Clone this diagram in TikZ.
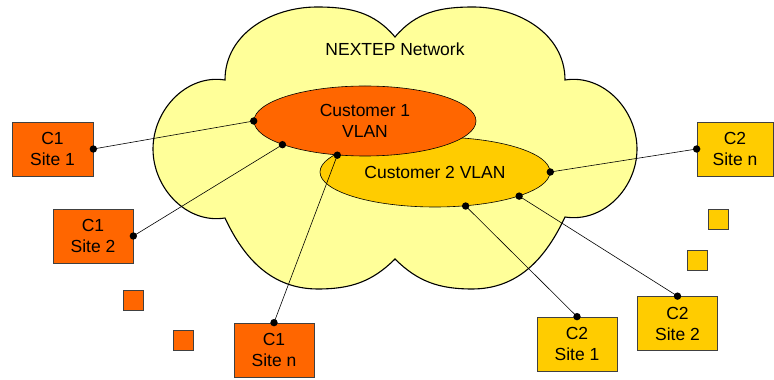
\documentclass[tikz,border=0pt]{standalone}
\usepackage{fontspec}
\setmainfont{Liberation Sans}
\usetikzlibrary{shapes.geometric}
\definecolor{cloudy}{HTML}{FFFF99}
\definecolor{orng}{HTML}{FF6600}
\definecolor{gold}{HTML}{FFCC00}
\begin{document}
\begin{tikzpicture}[x=1pt,y=1pt, font=\fontsize{17.5}{21}\selectfont,
  sitebox/.style={draw=black!75, line width=0.7pt, minimum width=80pt, minimum height=54pt, inner sep=0pt, align=center},
  c1box/.style={sitebox, fill=orng},
  c2box/.style={sitebox, fill=gold},
  dotsq/.style={draw=black!75, line width=0.7pt, minimum size=20pt, inner sep=0pt},
  conn/.style={line width=0.6pt},
  vlan/.style={ellipse, draw, line width=0.6pt, inner sep=0pt, align=center},
  joint/.style={fill=black}]
\useasboundingbox (0,0) rectangle (774,380);
% cloud outline
\coordinate (T) at (395,343);
\coordinate (P1) at (317,373);
\coordinate (B) at (225,300);
\coordinate (Lx) at (153,231);
\coordinate (C) at (225,162);
\coordinate (Bot1) at (318,91);
\coordinate (N) at (395,121);
\coordinate (Bot2) at (472,91);
\coordinate (D) at (565,163);
\coordinate (Rx) at (637,231);
\coordinate (E) at (565,300);
\coordinate (P2) at (473,373);
\draw[fill=cloudy, line width=1.1pt]
  (T) to[out=130,in=0] (P1) to[out=180,in=90] (B)
  to[out=171,in=90] (Lx) to[out=270,in=189] (C)
  to[out=-65,in=180] (Bot1) to[out=0,in=225] (N)
  to[out=-45,in=180] (Bot2) to[out=0,in=245] (D)
  to[out=-9,in=270] (Rx) to[out=90,in=9] (E)
  to[out=90,in=0] (P2) to[out=180,in=50] (T) -- cycle;
\node (net) at (395,331) {NEXTEP Network};
% VLAN ellipses
\node[vlan, fill=gold, minimum width=230pt, minimum height=70pt] (v2) at (435,208) {Customer 2 VLAN};
\node[vlan, fill=orng, minimum width=222pt, minimum height=70pt] (v1) at (365,259) {Customer 1\\VLAN};
% sites
\node[c1box, minimum width=81pt] (s11) at (52.5,231) {C1\\Site 1};
\node[c1box] (s12) at (93,144) {C1\\Site 2};
\node[c1box] (s1n) at (274,30) {C1\\Site n};
\node[c2box, minimum width=76pt] (s2n) at (735,231) {C2\\Site n};
\node[c2box] (s22) at (677.5,56.5) {C2\\Site 2};
\node[c2box] (s21) at (577,36) {C2\\Site 1};
% ellipsis squares
\node[dotsq, fill=orng] (q1) at (133,80) {};
\node[dotsq, fill=orng] (q2) at (183.5,40) {};
\node[dotsq, fill=gold] (q3) at (718,161) {};
\node[dotsq, fill=gold] (q4) at (697.5,120) {};
% connectors
\draw[conn] (s11.east) -- (v1.180);
\draw[conn] (s12.east) -- (v1.196);
\draw[conn] (s1n.north) -- (v1.231);
\draw[conn] (s2n.west) -- (v2.0);
\draw[conn] (s22.north) -- (v2.344);
\draw[conn] (s21.north) -- (v2.312);
\foreach \p in {s11.east, v1.180, s12.east, v1.196, s1n.north, v1.231,
                s2n.west, v2.0, s22.north, v2.344, s21.north, v2.312}
  \fill[joint] (\p) circle (3.7);
\end{tikzpicture}
\end{document}
